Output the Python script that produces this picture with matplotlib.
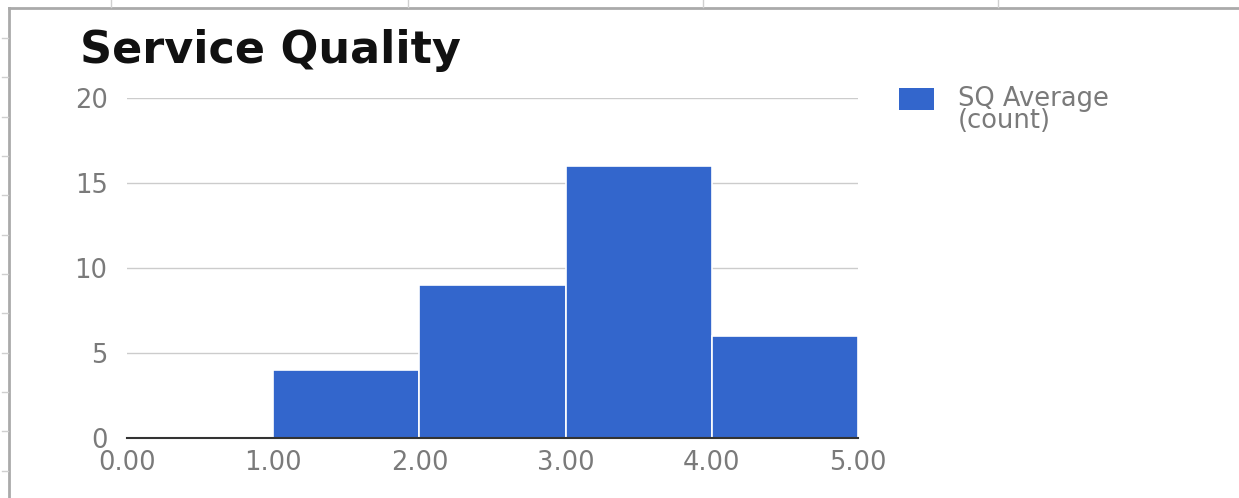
import matplotlib
matplotlib.use("Agg")
import matplotlib.pyplot as plt
from matplotlib.lines import Line2D
from matplotlib.patches import FancyBboxPatch

# ---- data ----
bin_edges = [0.0, 1.0, 2.0, 3.0, 4.0, 5.0]
counts = [0, 4, 9, 16, 6]
x_tick_labels = ["0.00", "1.00", "2.00", "3.00", "4.00", "5.00"]
y_ticks = [0, 5, 10, 15, 20]
title = "Service Quality"
series_name = "SQ Average\n(count)"

BAR = "#3366CC"
LABEL = "#7a7a7a"
W, H = 1239, 498

plt.rcParams['font.family'] = ['DejaVu Sans']
fig = plt.figure(figsize=(W / 100, H / 100), dpi=100)
fig.patch.set_facecolor("white")

def px(x, y):
    return x / W, 1 - y / H

# plot area
l, t = 127, 98
r, b = 858, 438
ax = fig.add_axes([l / W, 1 - b / H, (r - l) / W, (b - t) / H])

lefts = bin_edges[:-1]
widths = [bin_edges[i + 1] - bin_edges[i] for i in range(len(counts))]
ax.bar(lefts, counts, width=widths, align="edge", color=BAR,
       edgecolor="white", linewidth=1.2, zorder=3)

ax.set_xlim(bin_edges[0], bin_edges[-1])
ax.set_ylim(0, 20)
ax.set_xticks(bin_edges)
ax.set_xticklabels(x_tick_labels)
ax.set_yticks(y_ticks)
ax.set_yticklabels([str(v) for v in y_ticks])
ax.tick_params(axis="both", length=0, labelsize=18.5, labelcolor=LABEL)
ax.tick_params(axis="x", pad=9)
ax.tick_params(axis="y", pad=14)
for s in ax.spines.values():
    s.set_visible(False)
ax.grid(axis="y", color="#cccccc", linewidth=1.0, zorder=0)
ax.grid(axis="x", visible=False)
ax.axhline(0, color="#333333", linewidth=1.5, zorder=4, clip_on=False)

# title
fig.text(*px(80, 63), title, fontsize=32, fontweight="bold", color="#111111",
         ha="left", va="baseline")

# legend
lx0, ly0 = px(899, 110)
lx1, ly1 = px(934, 88)
fig.patches.append(FancyBboxPatch((lx0, ly0), lx1 - lx0, ly1 - ly0,
                                  boxstyle="square,pad=0", facecolor=BAR,
                                  edgecolor="none", transform=fig.transFigure))
fig.text(*px(958, 86), series_name, fontsize=18.5, color=LABEL, ha="left",
         va="top", linespacing=0.82)

# spreadsheet frame decoration
frame = "#aaaaaa"
fig.lines.append(Line2D([9 / W, 9 / W], [1 - 8 / H, 0], color=frame, lw=2,
                        transform=fig.transFigure))
fig.lines.append(Line2D([9 / W, 1], [1 - 8 / H, 1 - 8 / H], color=frame, lw=2,
                        transform=fig.transFigure))
for yy in [38, 77, 117, 156, 195, 235, 274, 313, 353, 392, 431, 471]:
    fig.lines.append(Line2D([2 / W, 8 / W], [1 - yy / H, 1 - yy / H],
                            color="#cfcfcf", lw=1, transform=fig.transFigure))
for xx in [111, 408, 703, 998]:
    fig.lines.append(Line2D([xx / W, xx / W], [1, 1 - 7 / H],
                            color="#cfcfcf", lw=1, transform=fig.transFigure))

fig.savefig("out.png", dpi=100, facecolor="white")
